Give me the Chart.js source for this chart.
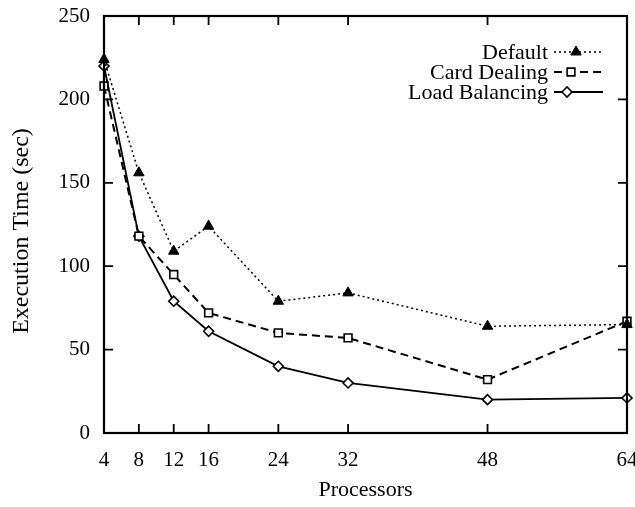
<!DOCTYPE html>
<html>
<head>
<meta charset="utf-8">
<script src="https://cdn.jsdelivr.net/npm/chart.js@4.4.1/dist/chart.umd.min.js"></script>
<style>
html,body{margin:0;padding:0;background:#fff;}
#wrap{width:635px;height:507px;position:relative;}
</style>
</head>
<body>
<div id="wrap"><canvas id="c" width="635" height="507"></canvas></div>
<script>
const processors = [4, 8, 12, 16, 24, 32, 48, 64];
const xTicks = [4, 8, 12, 16, 24, 32, 48, 64];
const yTicks = [0, 50, 100, 150, 200, 250];
const defaultTimes = [224, 156, 109, 124, 79, 84, 64, 65];
const cardDealingTimes = [208, 118, 95, 72, 60, 57, 32, 67];
const loadBalancingTimes = [220, 118, 79, 61, 40, 30, 20, 21];
const seriesNames = ['Default', 'Card Dealing', 'Load Balancing'];
const xTitle = 'Processors';
const yTitle = 'Execution Time (sec)';

const FONT = '"Liberation Serif", "Times New Roman", serif';

function pts(vals){ return processors.map((x,i)=>({x:x,y:vals[i]})); }

const framePlugin = {
  id: 'frame',
  afterDatasetsDraw(chart){
    const ctx = chart.ctx, a = chart.chartArea;
    const xs = chart.scales.x, ys = chart.scales.y;
    ctx.save();
    ctx.strokeStyle = '#000';
    ctx.lineWidth = 2.2;
    ctx.strokeRect(a.left, a.top, a.right - a.left, a.bottom - a.top);
    ctx.lineWidth = 1.8;
    ctx.beginPath();
    const tl = 9;
    xTicks.forEach(v=>{
      const px = xs.getPixelForValue(v);
      ctx.moveTo(px, a.bottom); ctx.lineTo(px, a.bottom - tl);
      ctx.moveTo(px, a.top); ctx.lineTo(px, a.top + tl);
    });
    yTicks.forEach(v=>{
      const py = ys.getPixelForValue(v);
      ctx.moveTo(a.left, py); ctx.lineTo(a.left + tl, py);
      ctx.moveTo(a.right, py); ctx.lineTo(a.right - tl, py);
    });
    ctx.stroke();

    // legend
    const rows = [52, 72, 92];
    const textRight = 548, lx0 = 554, lx1 = 603;
    ctx.font = '22px ' + FONT;
    ctx.fillStyle = '#000';
    ctx.textAlign = 'right';
    ctx.textBaseline = 'middle';
    chart.data.datasets.forEach((ds,i)=>{
      const y = rows[i];
      ctx.fillStyle = '#000';
      ctx.fillText(ds.label, textRight, y + 1);
      ctx.save();
      ctx.strokeStyle = '#000';
      ctx.lineWidth = ds.borderWidth;
      ctx.setLineDash(ds.borderDash || []);
      ctx.beginPath(); ctx.moveTo(lx0, y); ctx.lineTo(lx1, y); ctx.stroke();
      ctx.restore();
      const mx = [576, 571, 567][i];
      ctx.save();
      ctx.fillStyle = ds.pointBackgroundColor;
      ctx.strokeStyle = '#000';
      ctx.lineWidth = ds.pointBorderWidth;
      ctx.setLineDash([]);
      Chart.helpers.drawPoint(ctx, {
        pointStyle: ds.pointStyle, radius: ds.pointRadius, rotation: 0,
        borderWidth: ds.pointBorderWidth
      }, mx, y);
      ctx.restore();
    });

    // axis titles
    ctx.fillStyle = '#000';
    ctx.textAlign = 'center';
    ctx.textBaseline = 'middle';
    ctx.font = '22px ' + FONT;
    ctx.fillText(xTitle, (a.left + a.right) / 2, 490);
    ctx.save();
    ctx.translate(22, 231);
    ctx.rotate(-Math.PI / 2);
    ctx.font = '24px ' + FONT;
    ctx.fillText(yTitle, 0, 0);
    ctx.restore();
    ctx.restore();
  }
};

const chart = new Chart(document.getElementById('c'), {
  type: 'line',
  data: {
    datasets: [
      {label: seriesNames[0], data: pts(defaultTimes), borderColor:'#000', borderWidth:1.5, borderDash:[2,3],
       pointStyle:'triangle', pointRadius:6, pointBackgroundColor:'#000', pointBorderColor:'#000', pointBorderWidth:1, clip:false, tension:0},
      {label: seriesNames[1], data: pts(cardDealingTimes), borderColor:'#000', borderWidth:2, borderDash:[8,5],
       pointStyle:'rect', pointRadius:5.5, pointBackgroundColor:'#fff', pointBorderColor:'#000', pointBorderWidth:1.6, clip:false, tension:0},
      {label: seriesNames[2], data: pts(loadBalancingTimes), borderColor:'#000', borderWidth:1.8, borderDash:[],
       pointStyle:'rectRot', pointRadius:5, pointBackgroundColor:'#fff', pointBorderColor:'#000', pointBorderWidth:1.6, clip:false, tension:0}
    ]
  },
  options: {
    responsive: false,
    animation: false,
    devicePixelRatio: 1,
    layout: {padding: {left: 0, right: 8, top: 16, bottom: 0}},
    plugins: {legend:{display:false}, tooltip:{enabled:false}},
    scales: {
      x: {
        type:'linear', min:4, max:64,
        afterBuildTicks(s){ s.ticks = xTicks.map(v=>({value:v})); },
        afterFit(s){ s.height = 74; s.paddingLeft = 0; s.paddingRight = 0; },
        grid:{display:false, drawTicks:false}, border:{display:false},
        ticks:{color:'#000', font:{family:FONT, size:21}, padding:15, maxRotation:0, autoSkip:false}
      },
      y: {
        type:'linear', min:0, max:250,
        afterBuildTicks(s){ s.ticks = yTicks.map(v=>({value:v})); },
        afterFit(s){ s.width = 104; s.paddingTop = 0; s.paddingBottom = 0; },
        grid:{display:false, drawTicks:false}, border:{display:false},
        ticks:{color:'#000', font:{family:FONT, size:21}, padding:14}
      }
    }
  },
  plugins:[framePlugin]
});
</script>
</body>
</html>
